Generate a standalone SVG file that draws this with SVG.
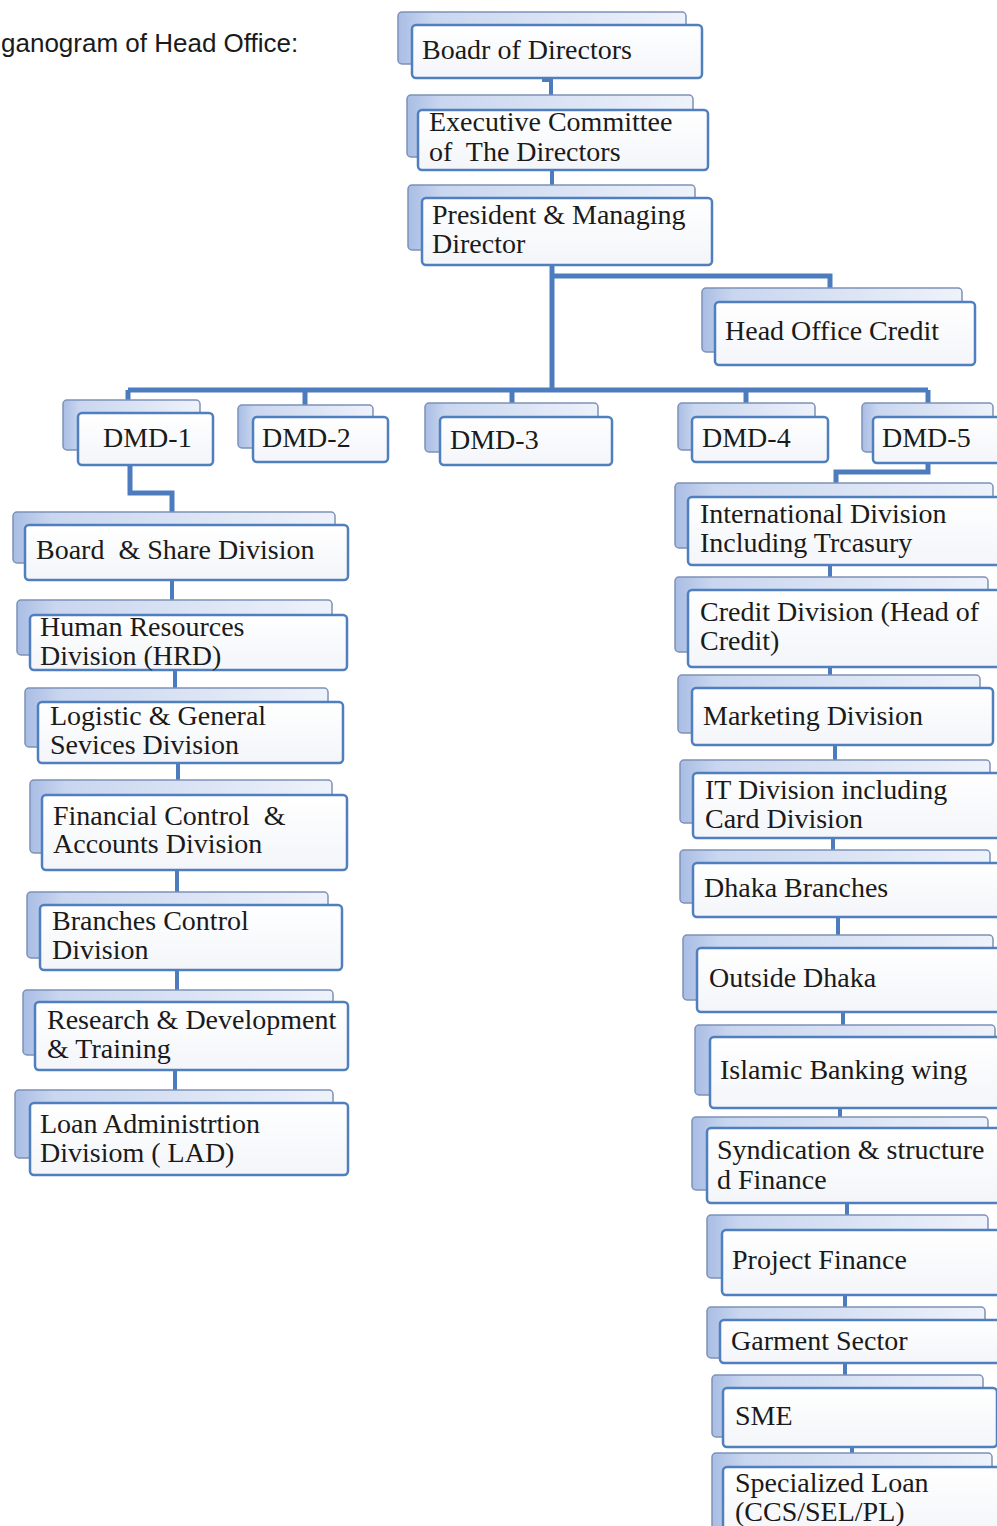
<svg xmlns="http://www.w3.org/2000/svg" width="997" height="1526" viewBox="0 0 997 1526">
<defs>
<linearGradient id="gBack" x1="0" y1="0" x2="1" y2="0">
<stop offset="0" stop-color="#a9bde4"/>
<stop offset="0.12" stop-color="#c9d6ef"/>
<stop offset="1" stop-color="#eef2fa"/>
</linearGradient>
<linearGradient id="gFront" x1="0" y1="0" x2="0" y2="1">
<stop offset="0" stop-color="#ffffff"/>
<stop offset="1" stop-color="#f3f5f9"/>
</linearGradient>
<style>
.back{fill:url(#gBack);stroke:#7d91b8;stroke-width:1.5}
.front{fill:url(#gFront);stroke:#4f7fbf;stroke-width:2.5}
.t{font-family:"Liberation Serif","Times New Roman",serif;font-size:28px;fill:#1a1a1a;white-space:pre}
.title{font-family:"Liberation Sans",Arial,sans-serif;font-size:26px;fill:#1a1a1a}
.c{fill:none;stroke:#4d7cbe;stroke-width:5;stroke-linejoin:miter}
.cs{fill:none;stroke:#4d7cbe;stroke-width:4}
</style>
</defs>
<rect width="997" height="1526" fill="#ffffff"/>
<text class="title" x="1" y="52">ganogram of Head Office:</text>

<g id="connectors">
<path class="cs" d="M544,64 V80 H551 V95"/>
<path class="cs" d="M552,170 V185"/>
<path class="c" d="M552,265 V390"/>
<path class="c" d="M552,276 H830 V288"/>
<path class="c" d="M128,390 H928"/>
<path class="c" d="M128,390 V400 M305,390 V405 M512,390 V403 M746,390 V403 M928,390 V403"/>
<path class="c" d="M130,465 V493 H172 V512"/>
<path class="c" d="M928,463 V472 H836 V483"/>
<path class="cs" d="M172,580 V600 M175,670 V688 M178,763 V780 M177,870 V892 M177,970 V990 M175,1070 V1090"/>
<path class="cs" d="M830,565 V577 M830,667 V675 M835,745 V760 M833,838 V850 M838,917 V935 M843,1012 V1025 M840,1108 V1117 M847,1203 V1215 M845,1295 V1307 M845,1363 V1375 M852,1447 V1453"/>
</g>

<g id="board">
<rect class="back" x="398" y="12" width="288" height="52" rx="4"/>
<rect class="front" x="412" y="25" width="290" height="53" rx="4"/>
<text class="t" x="422" y="59">Boadr of Directors</text>
</g>
<g id="exec">
<rect class="back" x="407" y="95" width="286" height="62" rx="4"/>
<rect class="front" x="418" y="110" width="290" height="60" rx="4"/>
<text class="t" x="429" y="131">Executive Committee</text>
<text class="t" x="429" y="161" xml:space="preserve">of  The Directors</text>
</g>
<g id="pmd">
<rect class="back" x="408" y="185" width="287" height="65" rx="4"/>
<rect class="front" x="422" y="198" width="290" height="67" rx="4"/>
<text class="t" x="432" y="224">President &amp; Managing</text>
<text class="t" x="432" y="253">Director</text>
</g>
<g id="hoc">
<rect class="back" x="702" y="288" width="260" height="64" rx="4"/>
<rect class="front" x="715" y="302" width="260" height="63" rx="4"/>
<text class="t" x="725" y="340">Head Office Credit</text>
</g>

<g id="dmd1">
<rect class="back" x="63" y="400" width="137" height="50" rx="4"/>
<rect class="front" x="78" y="413" width="135" height="52" rx="4"/>
<text class="t" x="103" y="447">DMD-1</text>
</g>
<g id="dmd2">
<rect class="back" x="238" y="405" width="135" height="43" rx="4"/>
<rect class="front" x="253" y="417" width="135" height="45" rx="4"/>
<text class="t" x="262" y="447">DMD-2</text>
</g>
<g id="dmd3">
<rect class="back" x="425" y="403" width="173" height="49" rx="4"/>
<rect class="front" x="440" y="417" width="172" height="48" rx="4"/>
<text class="t" x="450" y="449">DMD-3</text>
</g>
<g id="dmd4">
<rect class="back" x="678" y="403" width="137" height="47" rx="4"/>
<rect class="front" x="692" y="417" width="136" height="45" rx="4"/>
<text class="t" x="702" y="447">DMD-4</text>
</g>
<g id="dmd5">
<rect class="back" x="862" y="403" width="131" height="49" rx="4"/>
<rect class="front" x="873" y="417" width="130" height="46" rx="4"/>
<text class="t" x="882" y="447">DMD-5</text>
</g>

<g id="board-share">
<rect class="back" x="13" y="512" width="322" height="51" rx="4"/>
<rect class="front" x="25" y="525" width="323" height="55" rx="4"/>
<text class="t" x="36" y="559" xml:space="preserve">Board  &amp; Share Division</text>
</g>
<g id="hrd">
<rect class="back" x="17" y="600" width="315" height="55" rx="4"/>
<rect class="front" x="30" y="615" width="317" height="55" rx="4"/>
<text class="t" x="40" y="636">Human Resources</text>
<text class="t" x="40" y="665">Division (HRD)</text>
</g>
<g id="logistic">
<rect class="back" x="25" y="688" width="303" height="59" rx="4"/>
<rect class="front" x="38" y="702" width="305" height="61" rx="4"/>
<text class="t" x="50" y="725">Logistic &amp; General</text>
<text class="t" x="50" y="754">Sevices Division</text>
</g>
<g id="fin">
<rect class="back" x="30" y="780" width="302" height="73" rx="4"/>
<rect class="front" x="42" y="795" width="305" height="75" rx="4"/>
<text class="t" x="53" y="825" xml:space="preserve">Financial Control  &amp;</text>
<text class="t" x="53" y="853">Accounts Division</text>
</g>
<g id="branches">
<rect class="back" x="27" y="892" width="301" height="66" rx="4"/>
<rect class="front" x="40" y="905" width="302" height="65" rx="4"/>
<text class="t" x="52" y="930">Branches Control</text>
<text class="t" x="52" y="959">Division</text>
</g>
<g id="research">
<rect class="back" x="23" y="990" width="310" height="65" rx="4"/>
<rect class="front" x="35" y="1002" width="313" height="68" rx="4"/>
<text class="t" x="47" y="1029">Research &amp; Development</text>
<text class="t" x="47" y="1058">&amp; Training</text>
</g>
<g id="lad">
<rect class="back" x="15" y="1090" width="318" height="68" rx="4"/>
<rect class="front" x="30" y="1103" width="318" height="72" rx="4"/>
<text class="t" x="40" y="1133">Loan Administrtion</text>
<text class="t" x="40" y="1162">Divisiom ( LAD)</text>
</g>

<g id="intl">
<rect class="back" x="675" y="483" width="318" height="65" rx="4"/>
<rect class="front" x="688" y="497" width="315" height="68" rx="4"/>
<text class="t" x="700" y="523">International Division</text>
<text class="t" x="700" y="552">Including Trcasury</text>
</g>
<g id="credit">
<rect class="back" x="675" y="577" width="313" height="75" rx="4"/>
<rect class="front" x="688" y="590" width="315" height="77" rx="4"/>
<text class="t" x="700" y="621">Credit Division (Head of</text>
<text class="t" x="700" y="650">Credit)</text>
</g>
<g id="marketing">
<rect class="back" x="678" y="675" width="302" height="58" rx="4"/>
<rect class="front" x="692" y="688" width="301" height="57" rx="4"/>
<text class="t" x="703" y="725">Marketing Division</text>
</g>
<g id="it">
<rect class="back" x="680" y="760" width="310" height="63" rx="4"/>
<rect class="front" x="693" y="773" width="310" height="65" rx="4"/>
<text class="t" x="705" y="799">IT Division including</text>
<text class="t" x="705" y="828">Card Division</text>
</g>
<g id="dhaka">
<rect class="back" x="680" y="850" width="310" height="53" rx="4"/>
<rect class="front" x="693" y="863" width="310" height="54" rx="4"/>
<text class="t" x="704" y="897">Dhaka Branches</text>
</g>
<g id="outside">
<rect class="back" x="683" y="935" width="310" height="65" rx="4"/>
<rect class="front" x="697" y="948" width="306" height="64" rx="4"/>
<text class="t" x="709" y="987">Outside Dhaka</text>
</g>
<g id="islamic">
<rect class="back" x="695" y="1025" width="300" height="70" rx="4"/>
<rect class="front" x="710" y="1037" width="293" height="71" rx="4"/>
<text class="t" x="720" y="1079">Islamic Banking wing</text>
</g>
<g id="synd">
<rect class="back" x="692" y="1117" width="296" height="73" rx="4"/>
<rect class="front" x="707" y="1128" width="296" height="75" rx="4"/>
<text class="t" x="717" y="1159">Syndication &amp; structure</text>
<text class="t" x="717" y="1189">d Finance</text>
</g>
<g id="project">
<rect class="back" x="707" y="1215" width="281" height="63" rx="4"/>
<rect class="front" x="722" y="1230" width="281" height="65" rx="4"/>
<text class="t" x="732" y="1269">Project Finance</text>
</g>
<g id="garment">
<rect class="back" x="707" y="1307" width="278" height="51" rx="4"/>
<rect class="front" x="720" y="1320" width="283" height="43" rx="4"/>
<text class="t" x="731" y="1350">Garment Sector</text>
</g>
<g id="sme">
<rect class="back" x="712" y="1375" width="271" height="62" rx="4"/>
<rect class="front" x="723" y="1388" width="274" height="59" rx="4"/>
<text class="t" x="735" y="1425">SME</text>
</g>
<g id="special">
<rect class="back" x="712" y="1453" width="280" height="80" rx="4"/>
<rect class="front" x="723" y="1467" width="280" height="70" rx="4"/>
<text class="t" x="735" y="1492">Specialized Loan</text>
<text class="t" x="735" y="1521">(CCS/SEL/PL)</text>
</g>
</svg>
